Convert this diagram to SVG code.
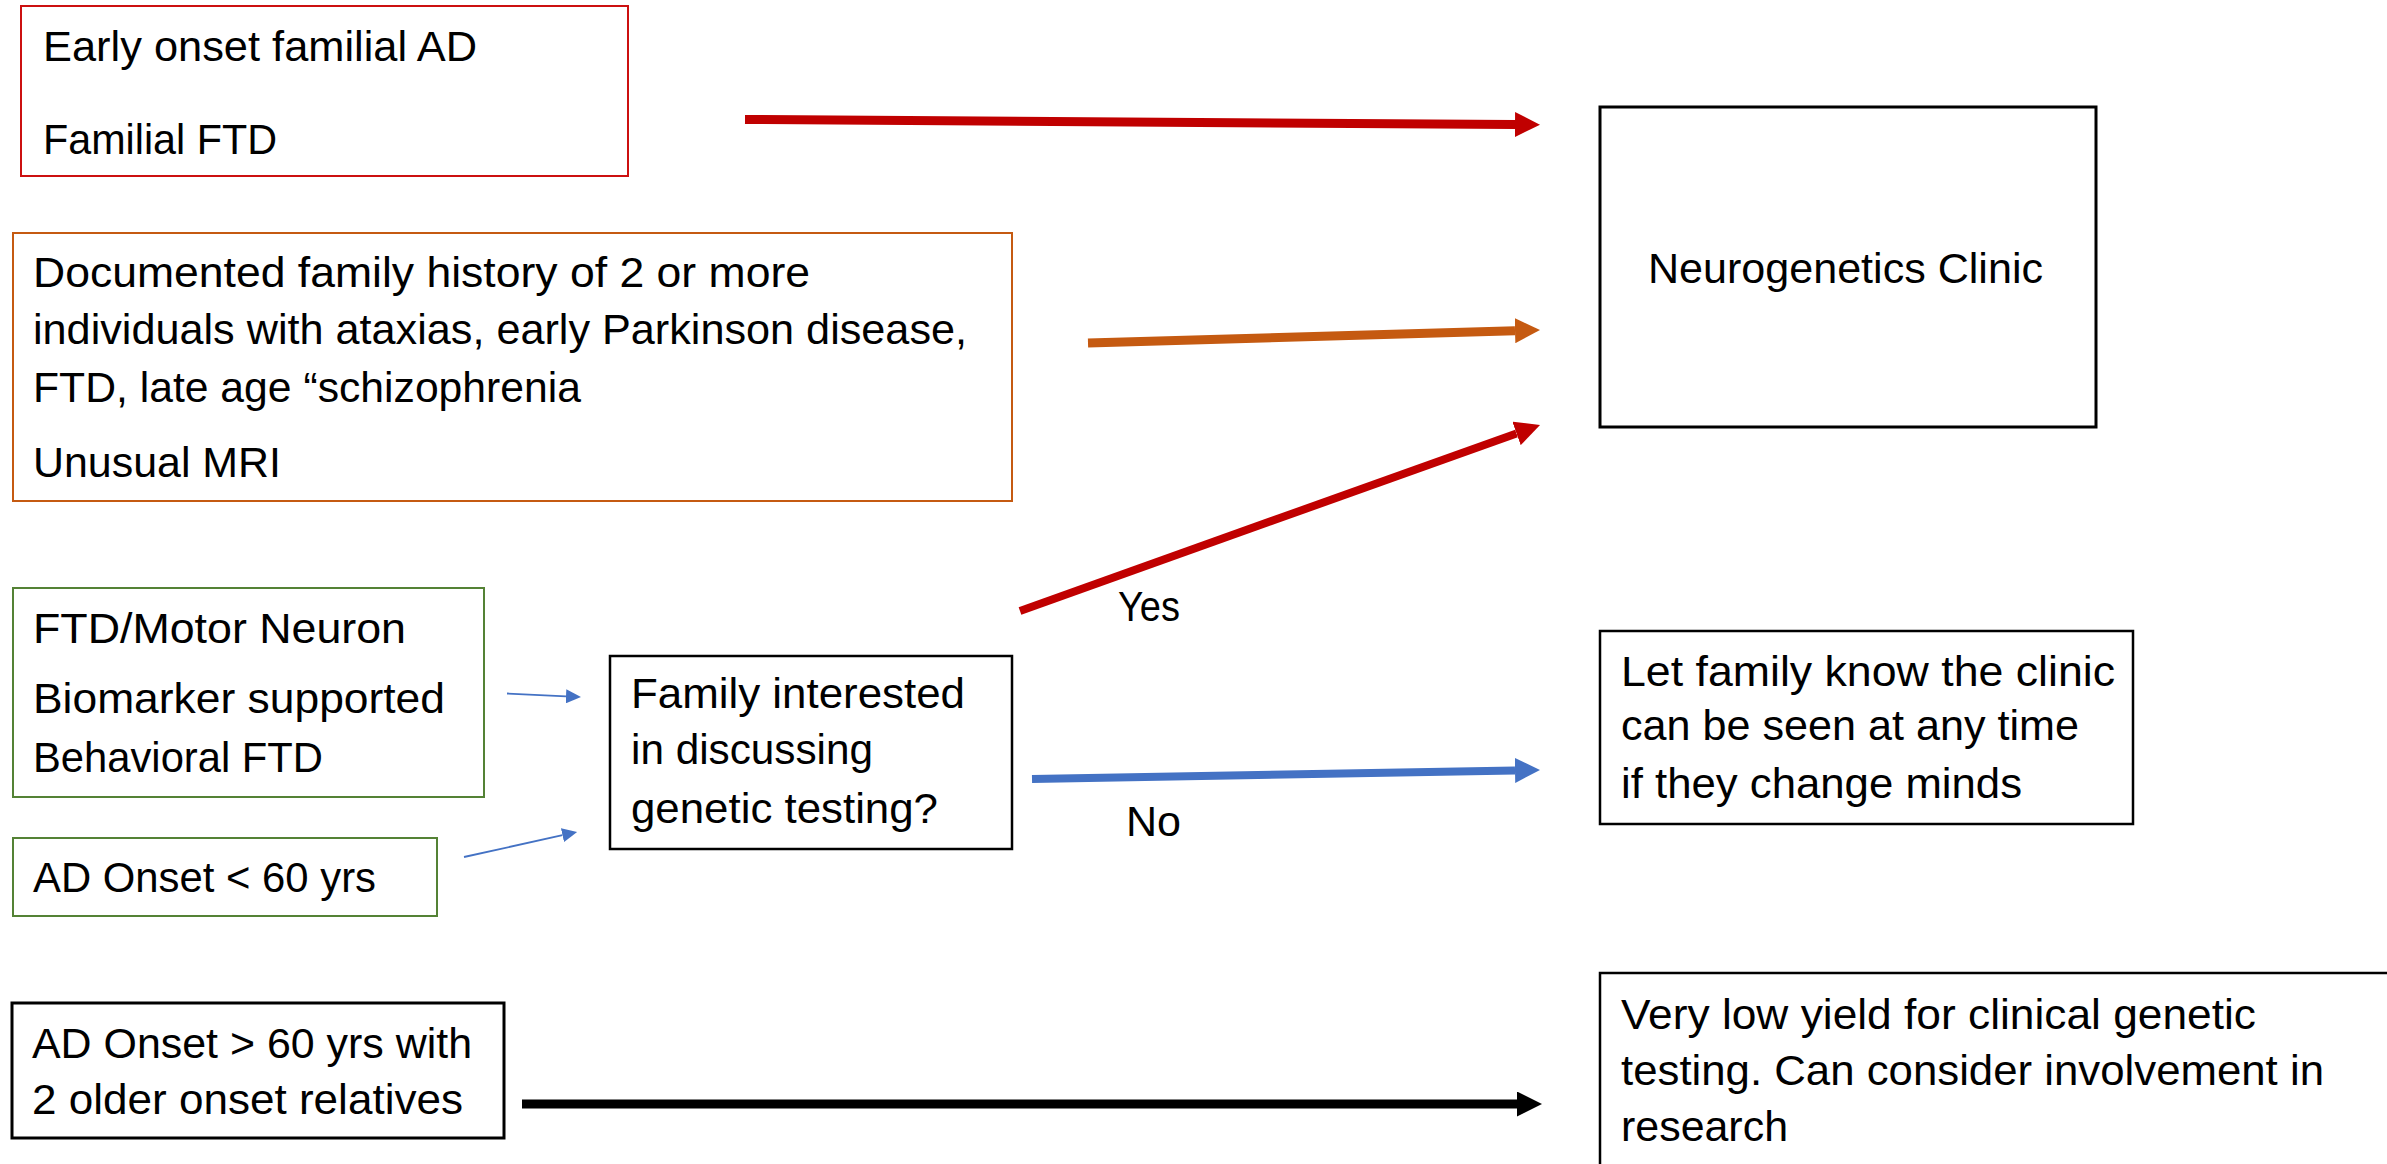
<svg xmlns="http://www.w3.org/2000/svg" width="2387" height="1164" viewBox="0 0 2387 1164">
  <style>
    .box { fill: #ffffff; }
    .red { stroke: #CC1010; stroke-width: 2; }
    .orange { stroke: #C55A11; stroke-width: 2; }
    .green { stroke: #548235; stroke-width: 2; }
    .black { stroke: #000000; stroke-width: 2.5; }
    .thick { stroke: #000000; stroke-width: 3; }
    .t { font-family: "Liberation Sans", Arial, sans-serif; font-size: 43px; fill: #000000; }
    .conn { fill: none; stroke-linecap: butt; }
  </style>
  <defs>
    <marker id="headRed" markerUnits="userSpaceOnUse" markerWidth="25" markerHeight="25" viewBox="0 0 25 25" refX="0" refY="12.5" orient="auto">
      <path d="M0,0 L25,12.5 L0,25 z" fill="#C00000"/>
    </marker>
    <marker id="headOrange" markerUnits="userSpaceOnUse" markerWidth="25" markerHeight="25" viewBox="0 0 25 25" refX="0" refY="12.5" orient="auto">
      <path d="M0,0 L25,12.5 L0,25 z" fill="#C55A11"/>
    </marker>
    <marker id="headBlue" markerUnits="userSpaceOnUse" markerWidth="25" markerHeight="25" viewBox="0 0 25 25" refX="0" refY="12.5" orient="auto">
      <path d="M0,0 L25,12.5 L0,25 z" fill="#4472C4"/>
    </marker>
    <marker id="headBlack" markerUnits="userSpaceOnUse" markerWidth="25" markerHeight="25" viewBox="0 0 25 25" refX="0" refY="12.5" orient="auto">
      <path d="M0,0 L25,12.5 L0,25 z" fill="#000000"/>
    </marker>
    <marker id="headBlueSmall" markerUnits="userSpaceOnUse" markerWidth="15" markerHeight="14" viewBox="0 0 15 14" refX="0" refY="7" orient="auto">
      <path d="M0,0 L15,7 L0,14 z" fill="#4472C4"/>
    </marker>
  </defs>

  <rect width="2387" height="1164" fill="#ffffff"/>

  <g id="connectors">
    <line class="conn" x1="745" y1="119.5" x2="1515" y2="124.5" stroke="#C00000" stroke-width="9" marker-end="url(#headRed)"/>
    <line class="conn" x1="1088" y1="343" x2="1515" y2="330.7" stroke="#C55A11" stroke-width="9" marker-end="url(#headOrange)"/>
    <line class="conn" x1="1020" y1="611" x2="1516.5" y2="433.4" stroke="#C00000" stroke-width="8" marker-end="url(#headRed)"/>
    <line class="conn" x1="1032" y1="779" x2="1515" y2="770.4" stroke="#4472C4" stroke-width="8" marker-end="url(#headBlue)"/>
    <line class="conn" x1="522" y1="1104" x2="1517" y2="1104" stroke="#000000" stroke-width="9" marker-end="url(#headBlack)"/>
    <line class="conn" x1="507" y1="693.5" x2="566" y2="696.3" stroke="#4472C4" stroke-width="1.8" marker-end="url(#headBlueSmall)"/>
    <line class="conn" x1="464" y1="857" x2="562.5" y2="835.2" stroke="#4472C4" stroke-width="1.8" marker-end="url(#headBlueSmall)"/>
    <text class="t" x="1118" y="621" textLength="62" lengthAdjust="spacingAndGlyphs">Yes</text>
    <text class="t" x="1126" y="836" textLength="55" lengthAdjust="spacingAndGlyphs">No</text>
  </g>

  <g id="node-early-onset">
    <rect class="box red" x="21" y="6" width="607" height="170"/>
    <text class="t" x="43" y="61" textLength="434" lengthAdjust="spacingAndGlyphs">Early onset familial AD</text>
    <text class="t" x="43" y="154" textLength="234" lengthAdjust="spacingAndGlyphs">Familial FTD</text>
  </g>

  <g id="node-family-history">
    <rect class="box orange" x="13" y="233" width="999" height="268"/>
    <text class="t" x="33" y="287" textLength="777" lengthAdjust="spacingAndGlyphs">Documented family history of 2 or more</text>
    <text class="t" x="33" y="344" textLength="934" lengthAdjust="spacingAndGlyphs">individuals with ataxias, early Parkinson disease,</text>
    <text class="t" x="33" y="402" textLength="548" lengthAdjust="spacingAndGlyphs">FTD, late age “schizophrenia</text>
    <text class="t" x="33" y="477" textLength="248" lengthAdjust="spacingAndGlyphs">Unusual MRI</text>
  </g>

  <g id="node-ftd-motor">
    <rect class="box green" x="13" y="588" width="471" height="209"/>
    <text class="t" x="33" y="643" textLength="373" lengthAdjust="spacingAndGlyphs">FTD/Motor Neuron</text>
    <text class="t" x="33" y="713" textLength="412" lengthAdjust="spacingAndGlyphs">Biomarker supported</text>
    <text class="t" x="33" y="772" textLength="290" lengthAdjust="spacingAndGlyphs">Behavioral FTD</text>
  </g>

  <g id="node-ad-under-60">
    <rect class="box green" x="13" y="838" width="424" height="78"/>
    <text class="t" x="33" y="892" textLength="343" lengthAdjust="spacingAndGlyphs">AD Onset &lt; 60 yrs</text>
  </g>

  <g id="node-family-interested">
    <rect class="box black" x="610" y="656" width="402" height="193"/>
    <text class="t" x="631" y="708" textLength="334" lengthAdjust="spacingAndGlyphs">Family interested</text>
    <text class="t" x="631" y="764" textLength="242" lengthAdjust="spacingAndGlyphs">in discussing</text>
    <text class="t" x="631" y="823" textLength="307" lengthAdjust="spacingAndGlyphs">genetic testing?</text>
  </g>

  <g id="node-neurogenetics">
    <rect class="box thick" x="1600" y="107" width="496" height="320"/>
    <text class="t" x="1648" y="283" textLength="395" lengthAdjust="spacingAndGlyphs">Neurogenetics Clinic</text>
  </g>

  <g id="node-let-family">
    <rect class="box black" x="1600" y="631" width="533" height="193"/>
    <text class="t" x="1621" y="686" textLength="494" lengthAdjust="spacingAndGlyphs">Let family know the clinic</text>
    <text class="t" x="1621" y="740" textLength="458" lengthAdjust="spacingAndGlyphs">can be seen at any time</text>
    <text class="t" x="1621" y="798" textLength="401" lengthAdjust="spacingAndGlyphs">if they change minds</text>
  </g>

  <g id="node-ad-over-60">
    <rect class="box thick" x="12" y="1003" width="492" height="135"/>
    <text class="t" x="32" y="1058" textLength="440" lengthAdjust="spacingAndGlyphs">AD Onset &gt; 60 yrs with</text>
    <text class="t" x="32" y="1114" textLength="431" lengthAdjust="spacingAndGlyphs">2 older onset relatives</text>
  </g>

  <g id="node-very-low-yield">
    <rect class="box black" x="1600" y="973" width="900" height="300"/>
    <text class="t" x="1621" y="1029" textLength="635" lengthAdjust="spacingAndGlyphs">Very low yield for clinical genetic</text>
    <text class="t" x="1621" y="1085" textLength="703" lengthAdjust="spacingAndGlyphs">testing. Can consider involvement in</text>
    <text class="t" x="1621" y="1141" textLength="167" lengthAdjust="spacingAndGlyphs">research</text>
  </g>
</svg>
